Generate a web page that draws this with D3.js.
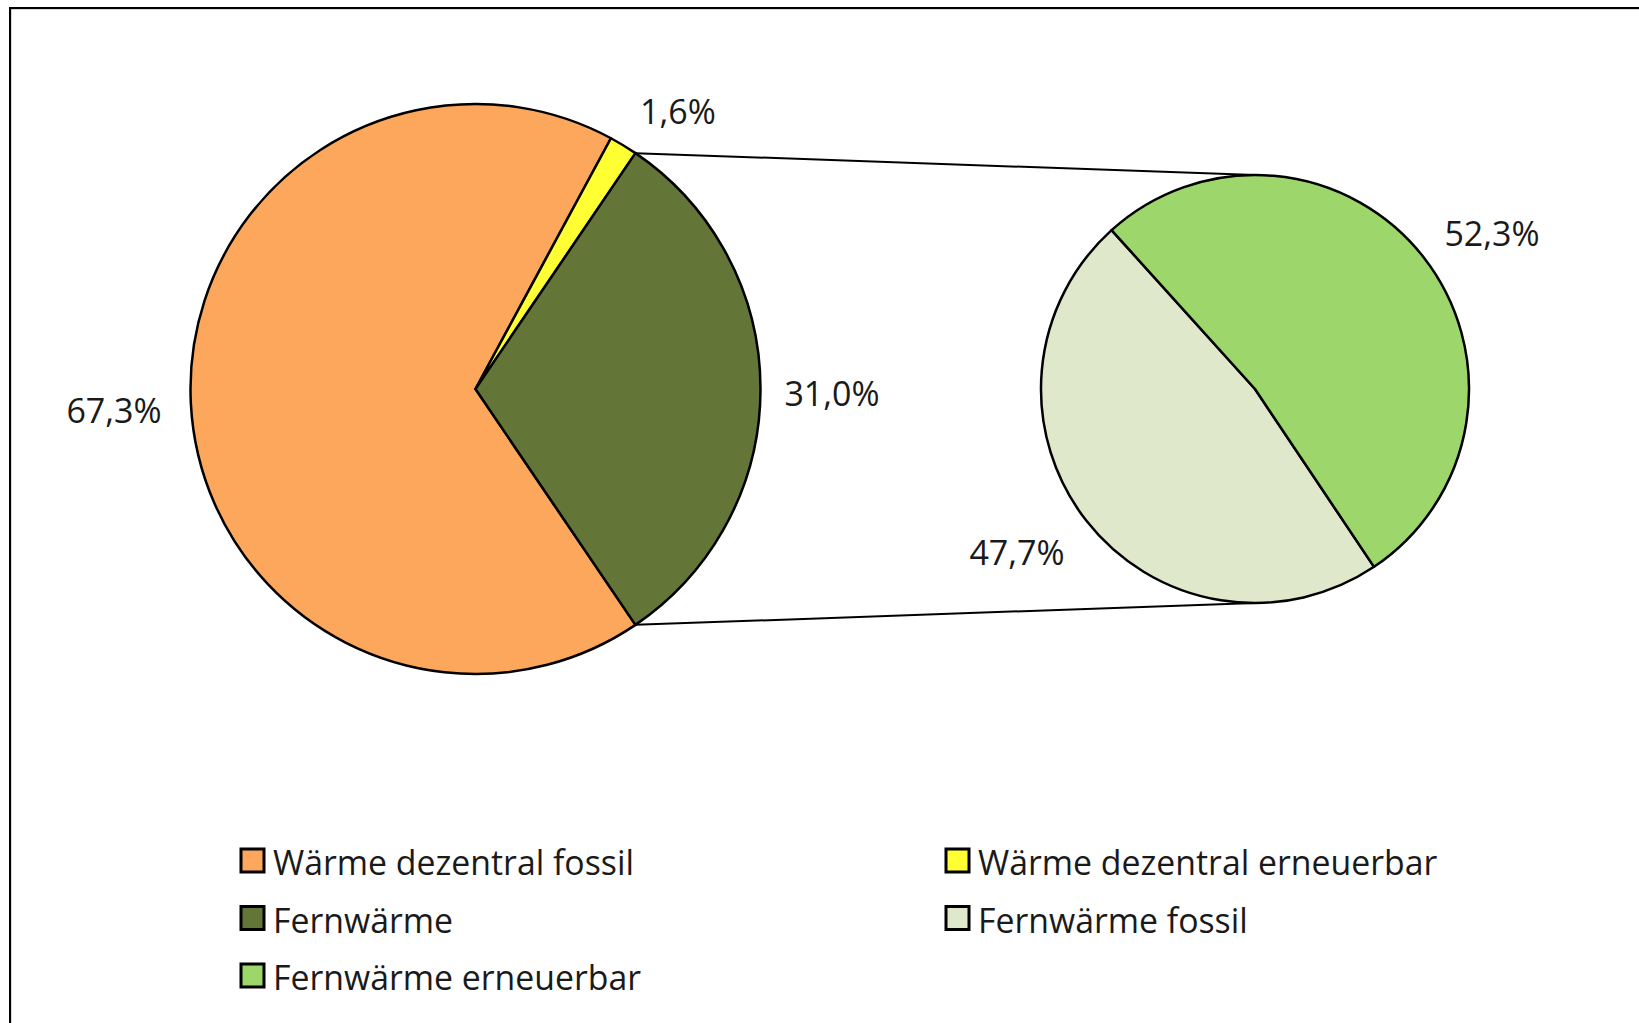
<!DOCTYPE html>
<html>
<head>
<meta charset="utf-8">
<script src="https://cdn.jsdelivr.net/npm/d3@7"></script>
<style>
  html, body { margin: 0; padding: 0; background: #fff; }
  svg { display: block; }
  text { font-family: "Open Sans", sans-serif; fill: #1a1a1a; }
</style>
</head>
<body>
<svg id="chart" width="1639" height="1023"></svg>
<script>
// Heat supply shares (percent)
const mainCategories = ["Wärme dezentral fossil", "Wärme dezentral erneuerbar", "Fernwärme"];
const mainValues = [67.3, 1.6, 31.0];
const mainColors = ["#FCA75C", "#FFFF33", "#637537"];

// Breakdown of district heating
const subCategories = ["Fernwärme fossil", "Fernwärme erneuerbar"];
const subValues = [47.7, 52.3];
const subColors = ["#DFE8CA", "#9DD66A"];

const legendOrder = ["Wärme dezentral fossil", "Wärme dezentral erneuerbar", "Fernwärme", "Fernwärme fossil", "Fernwärme erneuerbar"];

const fmt = v => v.toFixed(1).replace(".", ",") + "%";

const svg = d3.select("#chart");

// outer frame
svg.append("rect").attr("x", 11).attr("y", 9).attr("width", 1700).attr("height", 1100)
  .attr("fill", "none").attr("stroke", "#b0b0b0").attr("stroke-width", 1);
svg.append("rect").attr("x", 10).attr("y", 8).attr("width", 1700).attr("height", 1100)
  .attr("fill", "none").attr("stroke", "#000").attr("stroke-width", 2);

const deg = Math.PI / 180;

// main pie: the split slice (last) is centred on the 3 o'clock direction
const mainTotal = d3.sum(mainValues);
const lastShare = mainValues[mainValues.length - 1] / mainTotal;
const mainStart = Math.PI / 2 - (1 - lastShare / 2) * 2 * Math.PI;
const mainPie = d3.pie().sort(null).value(d => d.v)
  .startAngle(mainStart).endAngle(mainStart + 2 * Math.PI);
const mainData = mainPie(mainValues.map((v, i) => ({ v, name: mainCategories[i], color: mainColors[i] })));

const c1 = { x: 475.5, y: 389, r: 285 };
const c2 = { x: 1255, y: 389, r: 214 };

const subStart = 146.2 * deg;
const subPie = d3.pie().sort(null).value(d => d.v)
  .startAngle(subStart).endAngle(subStart + 2 * Math.PI);
const subData = subPie(subValues.map((v, i) => ({ v, name: subCategories[i], color: subColors[i] })));

// connector lines between split slice and secondary pie
const split = mainData[mainData.length - 1];
const pt = (c, a) => [c.x + c.r * Math.sin(a), c.y - c.r * Math.cos(a)];
const line = d3.line();
svg.append("path").attr("d", line([pt(c1, split.startAngle), [c2.x, c2.y - c2.r]]))
  .attr("stroke", "#000").attr("stroke-width", 2).attr("fill", "none");
svg.append("path").attr("d", line([pt(c1, split.endAngle), [c2.x, c2.y + c2.r]]))
  .attr("stroke", "#000").attr("stroke-width", 2).attr("fill", "none");

function drawPie(data, c) {
  const arc = d3.arc().innerRadius(0).outerRadius(c.r);
  const g = svg.append("g").attr("transform", `translate(${c.x},${c.y})`);
  g.selectAll("path").data(data).join("path")
    .attr("d", arc)
    .attr("fill", d => d.data.color)
    .attr("stroke", "#000").attr("stroke-width", 2.5).attr("stroke-linejoin", "round");
}
drawPie(mainData, c1);
drawPie(subData, c2);

// value labels placed outside the slices
const labelPos = {
  "Wärme dezentral fossil": [114, 410],
  "Wärme dezentral erneuerbar": [678, 111],
  "Fernwärme": [832, 393],
  "Fernwärme fossil": [1017, 552],
  "Fernwärme erneuerbar": [1492, 233]
};
const allSlices = mainData.concat(subData);
svg.selectAll("text.lbl").data(allSlices).join("text")
  .attr("class", "lbl")
  .attr("x", d => labelPos[d.data.name][0])
  .attr("y", d => labelPos[d.data.name][1])
  .attr("text-anchor", "middle").attr("dominant-baseline", "central")
  .attr("font-size", 34)
  .text(d => fmt(d.data.v));

// legend
const colorOf = {};
mainCategories.forEach((n, i) => colorOf[n] = mainColors[i]);
subCategories.forEach((n, i) => colorOf[n] = subColors[i]);
const legend = svg.append("g");
legendOrder.forEach((name, i) => {
  const col = i % 2, row = Math.floor(i / 2);
  const x = col === 0 ? 241 : 946;
  const y = 849 + row * 57.5;
  legend.append("rect").attr("x", x).attr("y", y).attr("width", 23).attr("height", 23)
    .attr("fill", colorOf[name]).attr("stroke", "#000").attr("stroke-width", 3);
  legend.append("text").attr("x", x + 32).attr("y", y + 26)
    .attr("font-size", 33.8).text(name);
});
</script>
</body>
</html>
